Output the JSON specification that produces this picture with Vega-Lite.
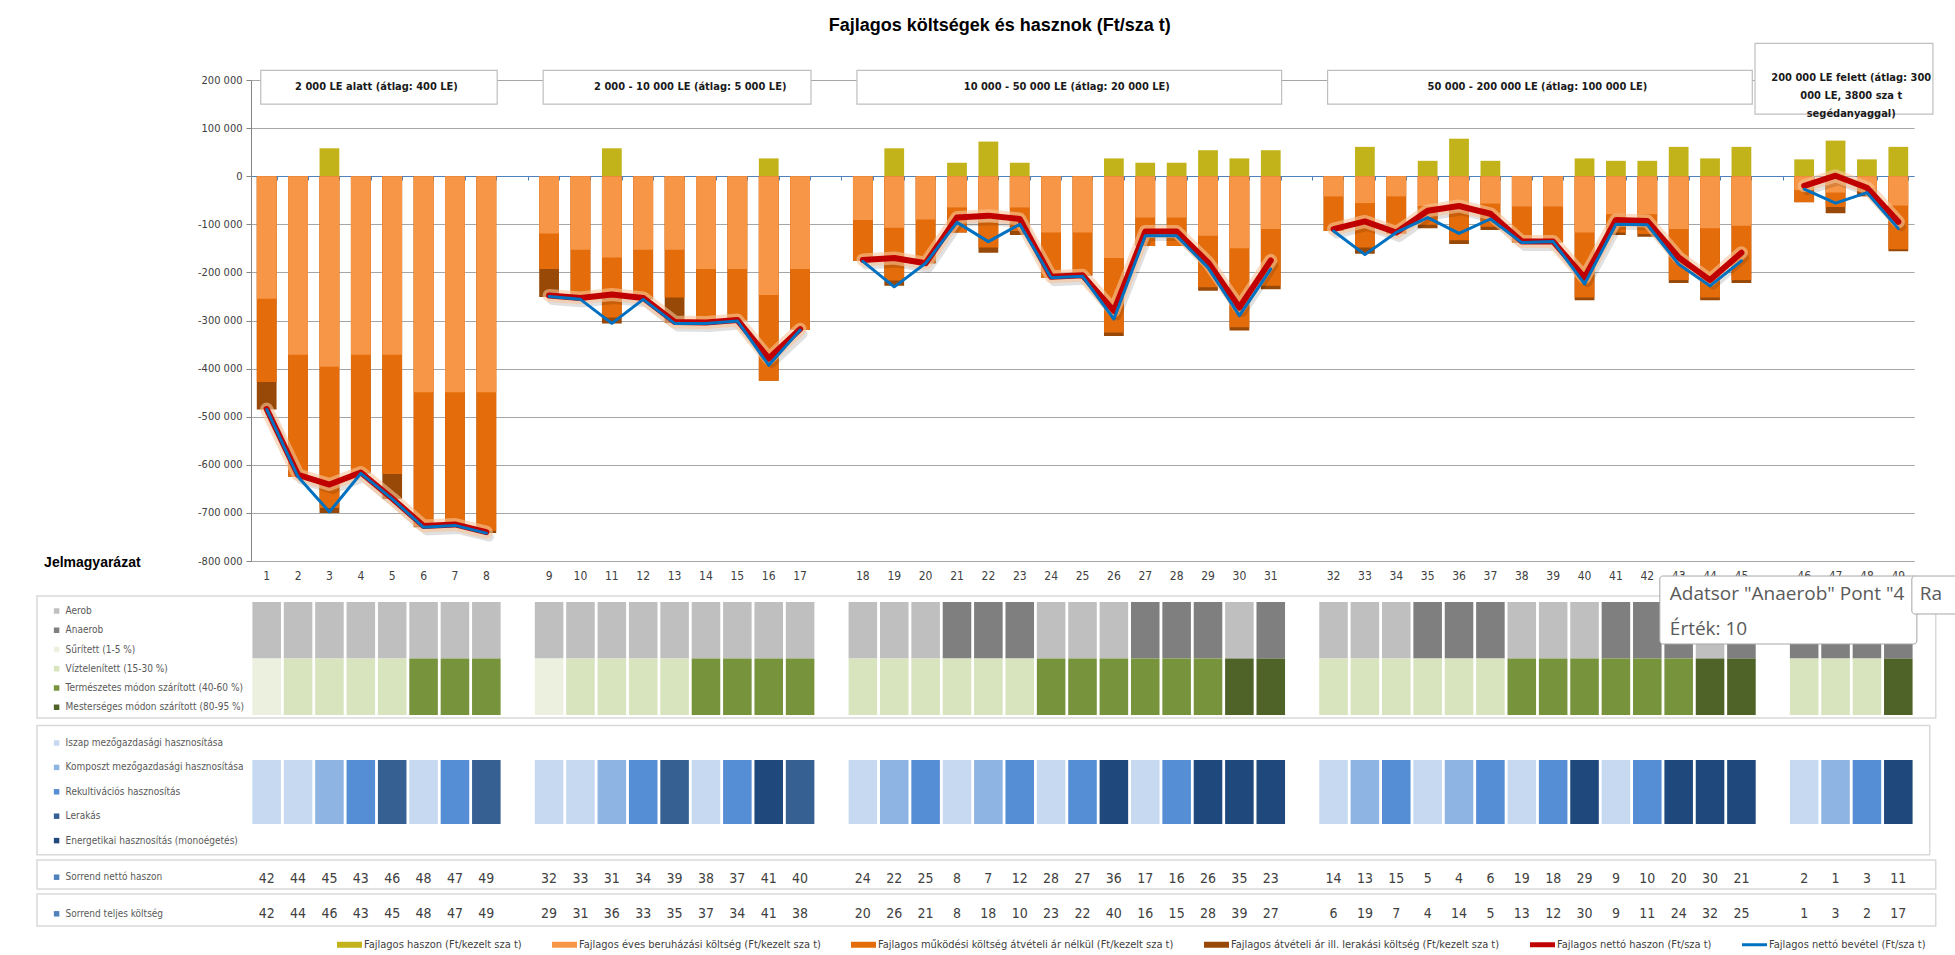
{
  "$schema": "https://vega.github.io/schema/vega-lite/v6.json",
  "background": "white",
  "padding": {"left": 36, "top": 16, "right": 10, "bottom": 5},
  "title": {"text": "Fajlagos költségek és hasznok (Ft/sza t)", "font": "Liberation Sans", "fontSize": 18, "fontWeight": "bold", "color": "#000000", "anchor": "middle", "offset": 8},
  "config": {
    "view": {"stroke": null},
    "locale": {"number": {"decimal": ",", "thousands": " ", "grouping": [3], "currency": ["", ""], "minus": "-"}},
    "axis": {"labelFont": "Liberation Sans Narrow, Arial Narrow, DejaVu Sans Condensed, sans-serif", "labelColor": "#404040"},
    "legend": {"labelFont": "Liberation Sans Narrow, Arial Narrow, DejaVu Sans Condensed, sans-serif", "labelColor": "#595959", "labelFontSize": 10, "labelLimit": 400, "symbolStrokeWidth": 0}
  },
  "datasets": {
    "minta": [
      {"id": "1", "csoport": "A", "haszon": 0, "beruhazas": -255000, "beruhazas_mukodes": -428000, "osszes_koltseg": -485000, "netto_haszon": -484000, "netto_bevetel": -485000, "technologia": "Aerob", "iszap": "Sűrített (1-5 %)", "hasznositas": "Iszap mezőgazdasági hasznosítása", "sorrend_netto": 42, "sorrend_koltseg": 42},
      {"id": "2", "csoport": "A", "haszon": 0, "beruhazas": -371000, "beruhazas_mukodes": -625000, "osszes_koltseg": -625000, "netto_haszon": -621000, "netto_bevetel": -625000, "technologia": "Aerob", "iszap": "Víztelenített (15-30 %)", "hasznositas": "Iszap mezőgazdasági hasznosítása", "sorrend_netto": 44, "sorrend_koltseg": 44},
      {"id": "3", "csoport": "A", "haszon": 58000, "beruhazas": -396000, "beruhazas_mukodes": -690000, "osszes_koltseg": -700000, "netto_haszon": -641000, "netto_bevetel": -698000, "technologia": "Aerob", "iszap": "Víztelenített (15-30 %)", "hasznositas": "Komposzt mezőgazdasági hasznosítása", "sorrend_netto": 45, "sorrend_koltseg": 46},
      {"id": "4", "csoport": "A", "haszon": 0, "beruhazas": -371000, "beruhazas_mukodes": -616000, "osszes_koltseg": -618000, "netto_haszon": -616000, "netto_bevetel": -618000, "technologia": "Aerob", "iszap": "Víztelenített (15-30 %)", "hasznositas": "Rekultivációs hasznosítás", "sorrend_netto": 43, "sorrend_koltseg": 43},
      {"id": "5", "csoport": "A", "haszon": 0, "beruhazas": -371000, "beruhazas_mukodes": -619000, "osszes_koltseg": -671000, "netto_haszon": -670000, "netto_bevetel": -671000, "technologia": "Aerob", "iszap": "Víztelenített (15-30 %)", "hasznositas": "Lerakás", "sorrend_netto": 46, "sorrend_koltseg": 45},
      {"id": "6", "csoport": "A", "haszon": 0, "beruhazas": -449000, "beruhazas_mukodes": -728000, "osszes_koltseg": -730000, "netto_haszon": -727000, "netto_bevetel": -730000, "technologia": "Aerob", "iszap": "Természetes módon szárított (40-60 %)", "hasznositas": "Iszap mezőgazdasági hasznosítása", "sorrend_netto": 48, "sorrend_koltseg": 48},
      {"id": "7", "csoport": "A", "haszon": 0, "beruhazas": -449000, "beruhazas_mukodes": -724000, "osszes_koltseg": -726000, "netto_haszon": -724000, "netto_bevetel": -726000, "technologia": "Aerob", "iszap": "Természetes módon szárított (40-60 %)", "hasznositas": "Rekultivációs hasznosítás", "sorrend_netto": 47, "sorrend_koltseg": 47},
      {"id": "8", "csoport": "A", "haszon": 0, "beruhazas": -449000, "beruhazas_mukodes": -737000, "osszes_koltseg": -742000, "netto_haszon": -740000, "netto_bevetel": -742000, "technologia": "Aerob", "iszap": "Természetes módon szárított (40-60 %)", "hasznositas": "Lerakás", "sorrend_netto": 49, "sorrend_koltseg": 49},
      {"id": "9", "csoport": "B", "haszon": 0, "beruhazas": -119000, "beruhazas_mukodes": -193000, "osszes_koltseg": -251000, "netto_haszon": -248000, "netto_bevetel": -250000, "technologia": "Aerob", "iszap": "Sűrített (1-5 %)", "hasznositas": "Iszap mezőgazdasági hasznosítása", "sorrend_netto": 32, "sorrend_koltseg": 29},
      {"id": "10", "csoport": "B", "haszon": 0, "beruhazas": -153000, "beruhazas_mukodes": -254000, "osszes_koltseg": -256000, "netto_haszon": -253000, "netto_bevetel": -256000, "technologia": "Aerob", "iszap": "Víztelenített (15-30 %)", "hasznositas": "Iszap mezőgazdasági hasznosítása", "sorrend_netto": 33, "sorrend_koltseg": 31},
      {"id": "11", "csoport": "B", "haszon": 58000, "beruhazas": -169000, "beruhazas_mukodes": -294000, "osszes_koltseg": -306000, "netto_haszon": -246000, "netto_bevetel": -306000, "technologia": "Aerob", "iszap": "Víztelenített (15-30 %)", "hasznositas": "Komposzt mezőgazdasági hasznosítása", "sorrend_netto": 31, "sorrend_koltseg": 36},
      {"id": "12", "csoport": "B", "haszon": 0, "beruhazas": -153000, "beruhazas_mukodes": -254000, "osszes_koltseg": -256000, "netto_haszon": -253000, "netto_bevetel": -256000, "technologia": "Aerob", "iszap": "Víztelenített (15-30 %)", "hasznositas": "Rekultivációs hasznosítás", "sorrend_netto": 34, "sorrend_koltseg": 33},
      {"id": "13", "csoport": "B", "haszon": 0, "beruhazas": -153000, "beruhazas_mukodes": -252000, "osszes_koltseg": -305000, "netto_haszon": -303000, "netto_bevetel": -306000, "technologia": "Aerob", "iszap": "Víztelenített (15-30 %)", "hasznositas": "Lerakás", "sorrend_netto": 39, "sorrend_koltseg": 35},
      {"id": "14", "csoport": "B", "haszon": 0, "beruhazas": -193000, "beruhazas_mukodes": -305000, "osszes_koltseg": -305000, "netto_haszon": -304000, "netto_bevetel": -306000, "technologia": "Aerob", "iszap": "Természetes módon szárított (40-60 %)", "hasznositas": "Iszap mezőgazdasági hasznosítása", "sorrend_netto": 38, "sorrend_koltseg": 37},
      {"id": "15", "csoport": "B", "haszon": 0, "beruhazas": -193000, "beruhazas_mukodes": -300000, "osszes_koltseg": -300000, "netto_haszon": -299000, "netto_bevetel": -301000, "technologia": "Aerob", "iszap": "Természetes módon szárított (40-60 %)", "hasznositas": "Rekultivációs hasznosítás", "sorrend_netto": 37, "sorrend_koltseg": 34},
      {"id": "16", "csoport": "B", "haszon": 37000, "beruhazas": -247000, "beruhazas_mukodes": -425000, "osszes_koltseg": -425000, "netto_haszon": -379000, "netto_bevetel": -393000, "technologia": "Aerob", "iszap": "Természetes módon szárított (40-60 %)", "hasznositas": "Energetikai hasznosítás (monoégetés)", "sorrend_netto": 41, "sorrend_koltseg": 41},
      {"id": "17", "csoport": "B", "haszon": 0, "beruhazas": -193000, "beruhazas_mukodes": -320000, "osszes_koltseg": -320000, "netto_haszon": -318000, "netto_bevetel": -320000, "technologia": "Aerob", "iszap": "Természetes módon szárított (40-60 %)", "hasznositas": "Lerakás", "sorrend_netto": 40, "sorrend_koltseg": 38},
      {"id": "18", "csoport": "C", "haszon": 0, "beruhazas": -91000, "beruhazas_mukodes": -176000, "osszes_koltseg": -176000, "netto_haszon": -174000, "netto_bevetel": -177000, "technologia": "Aerob", "iszap": "Víztelenített (15-30 %)", "hasznositas": "Iszap mezőgazdasági hasznosítása", "sorrend_netto": 24, "sorrend_koltseg": 20},
      {"id": "19", "csoport": "C", "haszon": 58000, "beruhazas": -107000, "beruhazas_mukodes": -217000, "osszes_koltseg": -228000, "netto_haszon": -170000, "netto_bevetel": -230000, "technologia": "Aerob", "iszap": "Víztelenített (15-30 %)", "hasznositas": "Komposzt mezőgazdasági hasznosítása", "sorrend_netto": 22, "sorrend_koltseg": 26},
      {"id": "20", "csoport": "C", "haszon": 0, "beruhazas": -90000, "beruhazas_mukodes": -181000, "osszes_koltseg": -181000, "netto_haszon": -181000, "netto_bevetel": -181000, "technologia": "Aerob", "iszap": "Víztelenített (15-30 %)", "hasznositas": "Rekultivációs hasznosítás", "sorrend_netto": 25, "sorrend_koltseg": 21},
      {"id": "21", "csoport": "C", "haszon": 28000, "beruhazas": -65000, "beruhazas_mukodes": -117000, "osszes_koltseg": -117000, "netto_haszon": -86000, "netto_bevetel": -96000, "technologia": "Anaerob", "iszap": "Víztelenített (15-30 %)", "hasznositas": "Iszap mezőgazdasági hasznosítása", "sorrend_netto": 8, "sorrend_koltseg": 8},
      {"id": "22", "csoport": "C", "haszon": 72000, "beruhazas": -96000, "beruhazas_mukodes": -148000, "osszes_koltseg": -159000, "netto_haszon": -82000, "netto_bevetel": -136000, "technologia": "Anaerob", "iszap": "Víztelenített (15-30 %)", "hasznositas": "Komposzt mezőgazdasági hasznosítása", "sorrend_netto": 7, "sorrend_koltseg": 18},
      {"id": "23", "csoport": "C", "haszon": 28000, "beruhazas": -65000, "beruhazas_mukodes": -114000, "osszes_koltseg": -122000, "netto_haszon": -89000, "netto_bevetel": -100000, "technologia": "Anaerob", "iszap": "Víztelenített (15-30 %)", "hasznositas": "Rekultivációs hasznosítás", "sorrend_netto": 12, "sorrend_koltseg": 10},
      {"id": "24", "csoport": "C", "haszon": 0, "beruhazas": -117000, "beruhazas_mukodes": -211000, "osszes_koltseg": -211000, "netto_haszon": -209000, "netto_bevetel": -211000, "technologia": "Aerob", "iszap": "Természetes módon szárított (40-60 %)", "hasznositas": "Iszap mezőgazdasági hasznosítása", "sorrend_netto": 28, "sorrend_koltseg": 23},
      {"id": "25", "csoport": "C", "haszon": 0, "beruhazas": -117000, "beruhazas_mukodes": -205000, "osszes_koltseg": -207000, "netto_haszon": -206000, "netto_bevetel": -208000, "technologia": "Aerob", "iszap": "Természetes módon szárított (40-60 %)", "hasznositas": "Rekultivációs hasznosítás", "sorrend_netto": 27, "sorrend_koltseg": 22},
      {"id": "26", "csoport": "C", "haszon": 37000, "beruhazas": -170000, "beruhazas_mukodes": -325000, "osszes_koltseg": -332000, "netto_haszon": -280000, "netto_bevetel": -297000, "technologia": "Aerob", "iszap": "Természetes módon szárított (40-60 %)", "hasznositas": "Energetikai hasznosítás (monoégetés)", "sorrend_netto": 36, "sorrend_koltseg": 40},
      {"id": "27", "csoport": "C", "haszon": 28000, "beruhazas": -86000, "beruhazas_mukodes": -145000, "osszes_koltseg": -145000, "netto_haszon": -115000, "netto_bevetel": -124000, "technologia": "Anaerob", "iszap": "Természetes módon szárított (40-60 %)", "hasznositas": "Iszap mezőgazdasági hasznosítása", "sorrend_netto": 17, "sorrend_koltseg": 16},
      {"id": "28", "csoport": "C", "haszon": 28000, "beruhazas": -86000, "beruhazas_mukodes": -145000, "osszes_koltseg": -145000, "netto_haszon": -115000, "netto_bevetel": -124000, "technologia": "Anaerob", "iszap": "Természetes módon szárított (40-60 %)", "hasznositas": "Rekultivációs hasznosítás", "sorrend_netto": 16, "sorrend_koltseg": 15},
      {"id": "29", "csoport": "C", "haszon": 54000, "beruhazas": -124000, "beruhazas_mukodes": -231000, "osszes_koltseg": -238000, "netto_haszon": -179000, "netto_bevetel": -190000, "technologia": "Anaerob", "iszap": "Természetes módon szárított (40-60 %)", "hasznositas": "Energetikai hasznosítás (monoégetés)", "sorrend_netto": 26, "sorrend_koltseg": 28},
      {"id": "30", "csoport": "C", "haszon": 37000, "beruhazas": -150000, "beruhazas_mukodes": -314000, "osszes_koltseg": -321000, "netto_haszon": -273000, "netto_bevetel": -290000, "technologia": "Aerob", "iszap": "Mesterséges módon szárított (80-95 %)", "hasznositas": "Energetikai hasznosítás (monoégetés)", "sorrend_netto": 35, "sorrend_koltseg": 39},
      {"id": "31", "csoport": "C", "haszon": 54000, "beruhazas": -110000, "beruhazas_mukodes": -228000, "osszes_koltseg": -235000, "netto_haszon": -175000, "netto_bevetel": -193000, "technologia": "Anaerob", "iszap": "Mesterséges módon szárított (80-95 %)", "hasznositas": "Energetikai hasznosítás (monoégetés)", "sorrend_netto": 23, "sorrend_koltseg": 27},
      {"id": "32", "csoport": "D", "haszon": 0, "beruhazas": -42000, "beruhazas_mukodes": -114000, "osszes_koltseg": -114000, "netto_haszon": -110000, "netto_bevetel": -114000, "technologia": "Aerob", "iszap": "Víztelenített (15-30 %)", "hasznositas": "Iszap mezőgazdasági hasznosítása", "sorrend_netto": 14, "sorrend_koltseg": 6},
      {"id": "33", "csoport": "D", "haszon": 61000, "beruhazas": -56000, "beruhazas_mukodes": -148000, "osszes_koltseg": -161000, "netto_haszon": -94000, "netto_bevetel": -163000, "technologia": "Aerob", "iszap": "Víztelenített (15-30 %)", "hasznositas": "Komposzt mezőgazdasági hasznosítása", "sorrend_netto": 13, "sorrend_koltseg": 19},
      {"id": "34", "csoport": "D", "haszon": 0, "beruhazas": -42000, "beruhazas_mukodes": -119000, "osszes_koltseg": -119000, "netto_haszon": -117000, "netto_bevetel": -117000, "technologia": "Aerob", "iszap": "Víztelenített (15-30 %)", "hasznositas": "Rekultivációs hasznosítás", "sorrend_netto": 15, "sorrend_koltseg": 7},
      {"id": "35", "csoport": "D", "haszon": 32000, "beruhazas": -62000, "beruhazas_mukodes": -101000, "osszes_koltseg": -108000, "netto_haszon": -72000, "netto_bevetel": -86000, "technologia": "Anaerob", "iszap": "Víztelenített (15-30 %)", "hasznositas": "Iszap mezőgazdasági hasznosítása", "sorrend_netto": 5, "sorrend_koltseg": 4},
      {"id": "36", "csoport": "D", "haszon": 78000, "beruhazas": -72000, "beruhazas_mukodes": -133000, "osszes_koltseg": -141000, "netto_haszon": -62000, "netto_bevetel": -119000, "technologia": "Anaerob", "iszap": "Víztelenített (15-30 %)", "hasznositas": "Komposzt mezőgazdasági hasznosítása", "sorrend_netto": 4, "sorrend_koltseg": 14},
      {"id": "37", "csoport": "D", "haszon": 32000, "beruhazas": -57000, "beruhazas_mukodes": -105000, "osszes_koltseg": -112000, "netto_haszon": -78000, "netto_bevetel": -89000, "technologia": "Anaerob", "iszap": "Víztelenített (15-30 %)", "hasznositas": "Rekultivációs hasznosítás", "sorrend_netto": 6, "sorrend_koltseg": 5},
      {"id": "38", "csoport": "D", "haszon": 0, "beruhazas": -63000, "beruhazas_mukodes": -138000, "osszes_koltseg": -138000, "netto_haszon": -136000, "netto_bevetel": -138000, "technologia": "Aerob", "iszap": "Természetes módon szárított (40-60 %)", "hasznositas": "Iszap mezőgazdasági hasznosítása", "sorrend_netto": 19, "sorrend_koltseg": 13},
      {"id": "39", "csoport": "D", "haszon": 0, "beruhazas": -63000, "beruhazas_mukodes": -138000, "osszes_koltseg": -138000, "netto_haszon": -136000, "netto_bevetel": -136000, "technologia": "Aerob", "iszap": "Természetes módon szárított (40-60 %)", "hasznositas": "Rekultivációs hasznosítás", "sorrend_netto": 18, "sorrend_koltseg": 12},
      {"id": "40", "csoport": "D", "haszon": 37000, "beruhazas": -117000, "beruhazas_mukodes": -252000, "osszes_koltseg": -258000, "netto_haszon": -211000, "netto_bevetel": -224000, "technologia": "Aerob", "iszap": "Természetes módon szárított (40-60 %)", "hasznositas": "Energetikai hasznosítás (monoégetés)", "sorrend_netto": 29, "sorrend_koltseg": 30},
      {"id": "41", "csoport": "D", "haszon": 32000, "beruhazas": -79000, "beruhazas_mukodes": -117000, "osszes_koltseg": -122000, "netto_haszon": -91000, "netto_bevetel": -100000, "technologia": "Anaerob", "iszap": "Természetes módon szárított (40-60 %)", "hasznositas": "Iszap mezőgazdasági hasznosítása", "sorrend_netto": 9, "sorrend_koltseg": 9},
      {"id": "42", "csoport": "D", "haszon": 32000, "beruhazas": -79000, "beruhazas_mukodes": -120000, "osszes_koltseg": -126000, "netto_haszon": -93000, "netto_bevetel": -101000, "technologia": "Anaerob", "iszap": "Természetes módon szárított (40-60 %)", "hasznositas": "Rekultivációs hasznosítás", "sorrend_netto": 10, "sorrend_koltseg": 11},
      {"id": "43", "csoport": "D", "haszon": 61000, "beruhazas": -110000, "beruhazas_mukodes": -216000, "osszes_koltseg": -222000, "netto_haszon": -169000, "netto_bevetel": -183000, "technologia": "Anaerob", "iszap": "Természetes módon szárított (40-60 %)", "hasznositas": "Energetikai hasznosítás (monoégetés)", "sorrend_netto": 20, "sorrend_koltseg": 24},
      {"id": "44", "csoport": "D", "haszon": 37000, "beruhazas": -108000, "beruhazas_mukodes": -252000, "osszes_koltseg": -258000, "netto_haszon": -216000, "netto_bevetel": -228000, "technologia": "Aerob", "iszap": "Mesterséges módon szárított (80-95 %)", "hasznositas": "Energetikai hasznosítás (monoégetés)", "sorrend_netto": 30, "sorrend_koltseg": 32},
      {"id": "45", "csoport": "D", "haszon": 61000, "beruhazas": -103000, "beruhazas_mukodes": -216000, "osszes_koltseg": -222000, "netto_haszon": -159000, "netto_bevetel": -176000, "technologia": "Anaerob", "iszap": "Mesterséges módon szárított (80-95 %)", "hasznositas": "Energetikai hasznosítás (monoégetés)", "sorrend_netto": 21, "sorrend_koltseg": 25},
      {"id": "46", "csoport": "E", "haszon": 35000, "beruhazas": -29000, "beruhazas_mukodes": -54000, "osszes_koltseg": -54000, "netto_haszon": -20000, "netto_bevetel": -27000, "technologia": "Anaerob", "iszap": "Víztelenített (15-30 %)", "hasznositas": "Iszap mezőgazdasági hasznosítása", "sorrend_netto": 2, "sorrend_koltseg": 1},
      {"id": "47", "csoport": "E", "haszon": 74000, "beruhazas": -34000, "beruhazas_mukodes": -64000, "osszes_koltseg": -77000, "netto_haszon": 1000, "netto_bevetel": -56000, "technologia": "Anaerob", "iszap": "Víztelenített (15-30 %)", "hasznositas": "Komposzt mezőgazdasági hasznosítása", "sorrend_netto": 1, "sorrend_koltseg": 3},
      {"id": "48", "csoport": "E", "haszon": 35000, "beruhazas": -24000, "beruhazas_mukodes": -34000, "osszes_koltseg": -42000, "netto_haszon": -24000, "netto_bevetel": -34000, "technologia": "Anaerob", "iszap": "Víztelenített (15-30 %)", "hasznositas": "Rekultivációs hasznosítás", "sorrend_netto": 3, "sorrend_koltseg": 2},
      {"id": "49", "csoport": "E", "haszon": 61000, "beruhazas": -61000, "beruhazas_mukodes": -152000, "osszes_koltseg": -156000, "netto_haszon": -95000, "netto_bevetel": -109000, "technologia": "Anaerob", "iszap": "Mesterséges módon szárított (80-95 %)", "hasznositas": "Energetikai hasznosítás (monoégetés)", "sorrend_netto": 11, "sorrend_koltseg": 17}
    ],
    "csoportok": [
      {"felirat": "2 000 LE alatt (átlag: 400 LE)", "kezdo": "1", "zaro": "8", "kozep": "4"},
      {"felirat": "2 000 - 10 000 LE (átlag: 5 000 LE)", "kezdo": "9", "zaro": "17", "kozep": "13"},
      {"felirat": "10 000 - 50 000 LE (átlag: 20 000 LE)", "kezdo": "18", "zaro": "31", "kozep": "24"},
      {"felirat": "50 000 - 200 000 LE (átlag: 100 000 LE)", "kezdo": "32", "zaro": "45", "kozep": "38"}
    ],
    "csoport_nagy": [
      {"felirat": ["200 000 LE felett (átlag: 300", "000 LE, 3800 sza t", "segédanyaggal)"], "kezdo": "g4", "zaro": "49", "kozep": "47"}
    ],
    "jelmagyarazat": [{"felirat": "Jelmagyarázat"}],
    "keret": [{"elem": "keret"}],
    "sugo": [{"szoveg": ["Adatsor \"Anaerob\" Pont \"4", "Érték: 10"], "masik": "Ra"}]
  },
  "spacing": 5,
  "bounds": "flush",
  "resolve": {"scale": {"x": "independent", "y": "independent", "color": "independent"}},
  "vconcat": [
    {
      "width": 1663,
      "height": 481,
      "resolve": {"axis": {"x": "independent"}},
      "layer": [
        {
          "data": {"name": "minta"},
          "mark": {"type": "bar"},
          "encoding": {
            "x": {"field": "id", "type": "nominal", "scale": {"domain": ["1","2","3","4","5","6","7","8","g1","9","10","11","12","13","14","15","16","17","g2","18","19","20","21","22","23","24","25","26","27","28","29","30","31","g3","32","33","34","35","36","37","38","39","40","41","42","43","44","45","g4","46","47","48","49"], "paddingInner": 0.37, "paddingOuter": 0.185},
              "axis": {"orient": "bottom", "title": null, "domain": false, "ticks": false, "grid": false, "labelAngle": 0, "labelPadding": 9, "labelFontSize": 12, "labelExpr": "indexof(datum.label, 'g') == 0 ? '' : datum.label"}},
            "y": {"field": "haszon", "type": "quantitative", "title": null, "scale": {"domain": [-800000, 200000], "nice": false, "zero": false},
              "axis": {"values": [200000, 100000, 0, -100000, -200000, -300000, -400000, -500000, -600000, -700000, -800000], "format": ",d", "grid": true, "gridColor": "#a6a6a6", "gridWidth": 1, "domainColor": "#868686", "tickColor": "#868686", "tickSize": 5, "labelPadding": 4, "labelFontSize": 11, "title": null}},
            "color": {"datum": "Fajlagos haszon (Ft/kezelt sza t)", "type": "nominal",
              "scale": {"domain": ["Fajlagos haszon (Ft/kezelt sza t)", "Fajlagos éves beruházási költség (Ft/kezelt sza t)", "Fajlagos működési költség átvételi ár nélkül (Ft/kezelt sza t)", "Fajlagos átvételi ár ill. lerakási költség (Ft/kezelt sza t)", "Fajlagos nettó haszon (Ft/sza t)", "Fajlagos nettó bevétel (Ft/sza t)"],
                "range": ["#c2b31b", "#f79646", "#e46c0a", "#984807", "#c00000", "#0070c0"]},
              "legend": {"orient": "none", "legendX": 86, "legendY": 852, "direction": "horizontal", "title": null, "symbolSize": 625, "columnPadding": 30, "labelFontSize": 11, "labelColor": "#404040", "labelOffset": 2,
                "encode": {"symbols": {"update": {"shape": {"signal": "datum.value === 'Fajlagos nettó haszon (Ft/sza t)' ? 'M-1,-0.2H1V0.2H-1Z' : (datum.value === 'Fajlagos nettó bevétel (Ft/sza t)' ? 'M-1,-0.12H1V0.12H-1Z' : 'M-1,-0.24H1V0.24H-1Z')"}}}}}}
          }
        },
        {
          "data": {"name": "minta"},
          "mark": {"type": "bar"},
          "encoding": {
            "x": {"field": "id", "type": "nominal", "axis": {"orient": "bottom", "offset": -385, "labels": false, "title": null, "grid": false, "domainColor": "#4f81bd", "domainWidth": 1, "tickColor": "#4f81bd", "tickSize": 4, "tickBand": "extent"}},
            "y": {"field": "osszes_koltseg", "type": "quantitative", "title": null},
            "color": {"datum": "Fajlagos átvételi ár ill. lerakási költség (Ft/kezelt sza t)", "type": "nominal"}
          }
        },
        {
          "data": {"name": "minta"},
          "mark": {"type": "bar"},
          "encoding": {
            "x": {"field": "id", "type": "nominal", "axis": null},
            "y": {"field": "beruhazas_mukodes", "type": "quantitative", "title": null},
            "color": {"datum": "Fajlagos működési költség átvételi ár nélkül (Ft/kezelt sza t)", "type": "nominal"}
          }
        },
        {
          "data": {"name": "minta"},
          "mark": {"type": "bar"},
          "encoding": {
            "x": {"field": "id", "type": "nominal", "axis": null},
            "y": {"field": "beruhazas", "type": "quantitative", "title": null},
            "color": {"datum": "Fajlagos éves beruházási költség (Ft/kezelt sza t)", "type": "nominal"}
          }
        },
        {
          "data": {"name": "minta"},
          "mark": {"type": "line", "color": "#000000", "strokeWidth": 9, "opacity": 0.12, "strokeCap": "round", "strokeJoin": "round", "xOffset": 3, "yOffset": 5},
          "encoding": {
            "x": {"field": "id", "type": "nominal", "axis": null},
            "y": {"field": "netto_haszon", "type": "quantitative", "title": null},
            "detail": {"field": "csoport"},
            "order": {"value": null}
          }
        },
        {
          "data": {"name": "minta"},
          "mark": {"type": "line", "color": "#f9c59a", "strokeWidth": 13, "opacity": 0.6, "strokeCap": "round", "strokeJoin": "round"},
          "encoding": {
            "x": {"field": "id", "type": "nominal", "axis": null},
            "y": {"field": "netto_haszon", "type": "quantitative", "title": null},
            "detail": {"field": "csoport"},
            "order": {"value": null}
          }
        },
        {
          "data": {"name": "minta"},
          "mark": {"type": "line", "strokeWidth": 6, "strokeCap": "round", "strokeJoin": "round"},
          "encoding": {
            "x": {"field": "id", "type": "nominal", "axis": null},
            "y": {"field": "netto_haszon", "type": "quantitative", "title": null},
            "detail": {"field": "csoport"},
            "order": {"value": null},
            "color": {"datum": "Fajlagos nettó haszon (Ft/sza t)", "type": "nominal"}
          }
        },
        {
          "data": {"name": "minta"},
          "mark": {"type": "line", "strokeWidth": 3, "strokeCap": "round", "strokeJoin": "round"},
          "encoding": {
            "x": {"field": "id", "type": "nominal", "axis": null},
            "y": {"field": "netto_bevetel", "type": "quantitative", "title": null},
            "detail": {"field": "csoport"},
            "order": {"value": null},
            "color": {"datum": "Fajlagos nettó bevétel (Ft/sza t)", "type": "nominal"}
          }
        },
        {
          "data": {"name": "csoportok"},
          "mark": {"type": "rect", "fill": "white", "stroke": "#bfbfbf", "strokeWidth": 1.2},
          "encoding": {
            "x": {"field": "kezdo", "type": "nominal", "bandPosition": 0.2, "axis": null},
            "x2": {"field": "zaro", "bandPosition": 1.05},
            "y": {"datum": 220000, "type": "quantitative"},
            "y2": {"datum": 150000}
          }
        },
        {
          "data": {"name": "csoportok"},
          "mark": {"type": "text", "font": "Liberation Sans Narrow, Arial Narrow, DejaVu Sans Condensed, sans-serif", "fontWeight": "bold", "fontSize": 11, "color": "#1a1a1a", "align": "center", "baseline": "middle"},
          "encoding": {
            "x": {"field": "kozep", "type": "nominal", "bandPosition": 1.293, "axis": null},
            "y": {"datum": 185000, "type": "quantitative"},
            "text": {"field": "felirat"}
          }
        },
        {
          "data": {"name": "csoport_nagy"},
          "mark": {"type": "rect", "fill": "white", "stroke": "#bfbfbf", "strokeWidth": 1.2},
          "encoding": {
            "x": {"field": "kezdo", "type": "nominal", "bandPosition": -0.4, "axis": null},
            "x2": {"field": "zaro", "bandPosition": 2.25},
            "y": {"datum": 276000, "type": "quantitative"},
            "y2": {"datum": 129000}
          }
        },
        {
          "data": {"name": "csoport_nagy"},
          "mark": {"type": "text", "font": "Liberation Sans Narrow, Arial Narrow, DejaVu Sans Condensed, sans-serif", "fontWeight": "bold", "fontSize": 11, "color": "#1a1a1a", "align": "center", "baseline": "middle", "lineHeight": 18},
          "encoding": {
            "x": {"field": "kozep", "type": "nominal", "bandPosition": 1.293, "axis": null},
            "y": {"datum": 204000, "type": "quantitative"},
            "text": {"field": "felirat"}
          }
        },
        {
          "data": {"name": "jelmagyarazat"},
          "mark": {"type": "text", "font": "Liberation Sans", "fontWeight": "bold", "fontSize": 14, "color": "#000000", "align": "left", "baseline": "middle"},
          "encoding": {
            "x": {"datum": "1", "bandPosition": -10.76, "axis": null},
            "y": {"datum": -804000, "type": "quantitative"},
            "text": {"field": "felirat"}
          }
        }
      ]
    },
    {
      "width": 1663,
      "height": 154,
      "layer": [
        {
          "data": {"name": "minta"},
          "transform": [{"fold": ["technologia", "iszap"], "as": ["tipus", "kategoria"]}],
          "mark": {"type": "rect"},
          "encoding": {
            "x": {"field": "id", "type": "nominal", "axis": null, "scale": {"type": "band", "domain": ["1","2","3","4","5","6","7","8","g1","9","10","11","12","13","14","15","16","17","g2","18","19","20","21","22","23","24","25","26","27","28","29","30","31","g3","32","33","34","35","36","37","38","39","40","41","42","43","44","45","g4","46","47","48","49"], "paddingInner": 0.09, "paddingOuter": 0.045}},
            "y": {"field": "tipus", "type": "nominal", "axis": null, "scale": {"domain": ["technologia", "iszap"], "paddingInner": 0, "paddingOuter": 0.363, "align": 0.878}},
            "color": {"field": "kategoria", "type": "nominal",
              "scale": {"domain": ["Aerob", "Anaerob", "Sűrített (1-5 %)", "Víztelenített (15-30 %)", "Természetes módon szárított (40-60 %)", "Mesterséges módon szárított (80-95 %)"],
                "range": ["#bfbfbf", "#7f7f7f", "#ebf1de", "#d7e4bd", "#77933c", "#4f6228"]},
              "legend": {"orient": "none", "legendX": -199.4, "legendY": 40, "title": null, "symbolType": "square", "symbolSize": 30, "rowPadding": 9.25}}
          }
        },
        {
          "data": {"name": "keret"},
          "mark": {"type": "rect", "fill": null, "stroke": "#d9d9d9", "strokeWidth": 1.5},
          "encoding": {
            "x": {"datum": "1", "bandPosition": -7.545},
            "x2": {"datum": "49", "bandPosition": 1.81},
            "y": {"datum": "technologia", "bandPosition": -0.106},
            "y2": {"datum": "iszap", "bandPosition": 1.053}
          }
        },
        {
          "data": {"name": "sugo"},
          "mark": {"type": "rect", "fill": "white", "stroke": "#a6a6a6", "strokeWidth": 1, "cornerRadius": 3},
          "encoding": {
            "x": {"datum": "43", "bandPosition": -0.16},
            "x2": {"datum": "49", "bandPosition": 1.15},
            "y": {"datum": "technologia", "bandPosition": -0.46},
            "y2": {"datum": "technologia", "bandPosition": 0.743}
          }
        },
        {
          "data": {"name": "sugo"},
          "mark": {"type": "text", "font": "Open Sans", "fontSize": 19, "color": "#5a5a5a", "align": "left", "baseline": "middle", "lineHeight": 35},
          "encoding": {
            "x": {"datum": "43", "bandPosition": 0.19},
            "y": {"datum": "technologia", "bandPosition": -0.142},
            "text": {"field": "szoveg"}
          }
        },
        {
          "data": {"name": "sugo"},
          "mark": {"type": "rect", "fill": "white", "stroke": "#a6a6a6", "strokeWidth": 1, "cornerRadius": 3},
          "encoding": {
            "x": {"datum": "49", "bandPosition": 0.974},
            "x2": {"datum": "49", "bandPosition": 2.76},
            "y": {"datum": "technologia", "bandPosition": -0.46},
            "y2": {"datum": "technologia", "bandPosition": 0.212}
          }
        },
        {
          "data": {"name": "sugo"},
          "mark": {"type": "text", "font": "Open Sans", "fontSize": 19, "color": "#5a5a5a", "align": "left", "baseline": "middle"},
          "encoding": {
            "x": {"datum": "49", "bandPosition": 1.255},
            "y": {"datum": "technologia", "bandPosition": -0.142},
            "text": {"field": "masik"}
          }
        }
      ]
    },
    {
      "width": 1663,
      "height": 130,
      "layer": [
        {
          "data": {"name": "minta"},
          "mark": {"type": "rect"},
          "encoding": {
            "x": {"field": "id", "type": "nominal", "axis": null, "scale": {"type": "band", "domain": ["1","2","3","4","5","6","7","8","g1","9","10","11","12","13","14","15","16","17","g2","18","19","20","21","22","23","24","25","26","27","28","29","30","31","g3","32","33","34","35","36","37","38","39","40","41","42","43","44","45","g4","46","47","48","49"], "paddingInner": 0.09, "paddingOuter": 0.045}},
            "y": {"datum": "hasznosítás", "type": "nominal", "axis": null, "scale": {"domain": ["hasznosítás"], "paddingInner": 0, "paddingOuter": 0.516, "align": 0.53}},
            "color": {"field": "hasznositas", "type": "nominal",
              "scale": {"domain": ["Iszap mezőgazdasági hasznosítása", "Komposzt mezőgazdasági hasznosítása", "Rekultivációs hasznosítás", "Lerakás", "Energetikai hasznosítás (monoégetés)"],
                "range": ["#c6d9f1", "#8eb4e3", "#558ed5", "#376092", "#1f497d"]},
              "legend": {"orient": "none", "legendX": -199.4, "legendY": 13, "title": null, "symbolType": "square", "symbolSize": 30, "rowPadding": 14.4}}
          }
        },
        {
          "data": {"name": "keret"},
          "mark": {"type": "rect", "fill": null, "stroke": "#d9d9d9", "strokeWidth": 1.5},
          "encoding": {
            "x": {"datum": "1", "bandPosition": -7.545},
            "x2": {"datum": "49", "bandPosition": 1.6},
            "y": {"datum": "hasznosítás", "bandPosition": -0.54},
            "y2": {"datum": "hasznosítás", "bandPosition": 1.48}
          }
        }
      ]
    },
    {
      "width": 1663,
      "height": 29,
      "layer": [
        {
          "data": {"name": "minta"},
          "mark": {"type": "text", "font": "Liberation Sans Narrow, Arial Narrow, DejaVu Sans Condensed, sans-serif", "fontSize": 14, "color": "#404040", "dy": 4},
          "encoding": {
            "x": {"field": "id", "type": "nominal", "axis": null, "scale": {"type": "band", "domain": ["1","2","3","4","5","6","7","8","g1","9","10","11","12","13","14","15","16","17","g2","18","19","20","21","22","23","24","25","26","27","28","29","30","31","g3","32","33","34","35","36","37","38","39","40","41","42","43","44","45","g4","46","47","48","49"], "paddingInner": 0.09, "paddingOuter": 0.045}},
            "text": {"field": "sorrend_netto", "type": "quantitative"}
          }
        },
        {
          "data": {"name": "keret"},
          "mark": {"type": "rect", "fill": null, "stroke": "#d9d9d9", "strokeWidth": 1.5},
          "encoding": {
            "x": {"datum": "1", "bandPosition": -7.545},
            "x2": {"datum": "49", "bandPosition": 1.81}
          }
        },
        {
          "data": {"name": "keret"},
          "mark": {"type": "square", "opacity": 0},
          "encoding": {
            "color": {"datum": "Sorrend nettó haszon", "type": "nominal", "scale": {"range": ["#4f81bd"]},
              "legend": {"orient": "none", "legendX": -199.4, "legendY": 12.2, "title": null, "symbolType": "square", "symbolSize": 30, "symbolOpacity": 1}}
          }
        }
      ]
    },
    {
      "width": 1663,
      "height": 32,
      "layer": [
        {
          "data": {"name": "minta"},
          "mark": {"type": "text", "font": "Liberation Sans Narrow, Arial Narrow, DejaVu Sans Condensed, sans-serif", "fontSize": 14, "color": "#404040", "dy": 4},
          "encoding": {
            "x": {"field": "id", "type": "nominal", "axis": null, "scale": {"type": "band", "domain": ["1","2","3","4","5","6","7","8","g1","9","10","11","12","13","14","15","16","17","g2","18","19","20","21","22","23","24","25","26","27","28","29","30","31","g3","32","33","34","35","36","37","38","39","40","41","42","43","44","45","g4","46","47","48","49"], "paddingInner": 0.09, "paddingOuter": 0.045}},
            "text": {"field": "sorrend_koltseg", "type": "quantitative"}
          }
        },
        {
          "data": {"name": "keret"},
          "mark": {"type": "rect", "fill": null, "stroke": "#d9d9d9", "strokeWidth": 1.5},
          "encoding": {
            "x": {"datum": "1", "bandPosition": -7.545},
            "x2": {"datum": "49", "bandPosition": 1.81}
          }
        },
        {
          "data": {"name": "keret"},
          "mark": {"type": "square", "opacity": 0},
          "encoding": {
            "color": {"datum": "Sorrend teljes költség", "type": "nominal", "scale": {"range": ["#4f81bd"]},
              "legend": {"orient": "none", "legendX": -199.4, "legendY": 14.8, "title": null, "symbolType": "square", "symbolSize": 30, "symbolOpacity": 1}}
          }
        }
      ]
    }
  ]
}
